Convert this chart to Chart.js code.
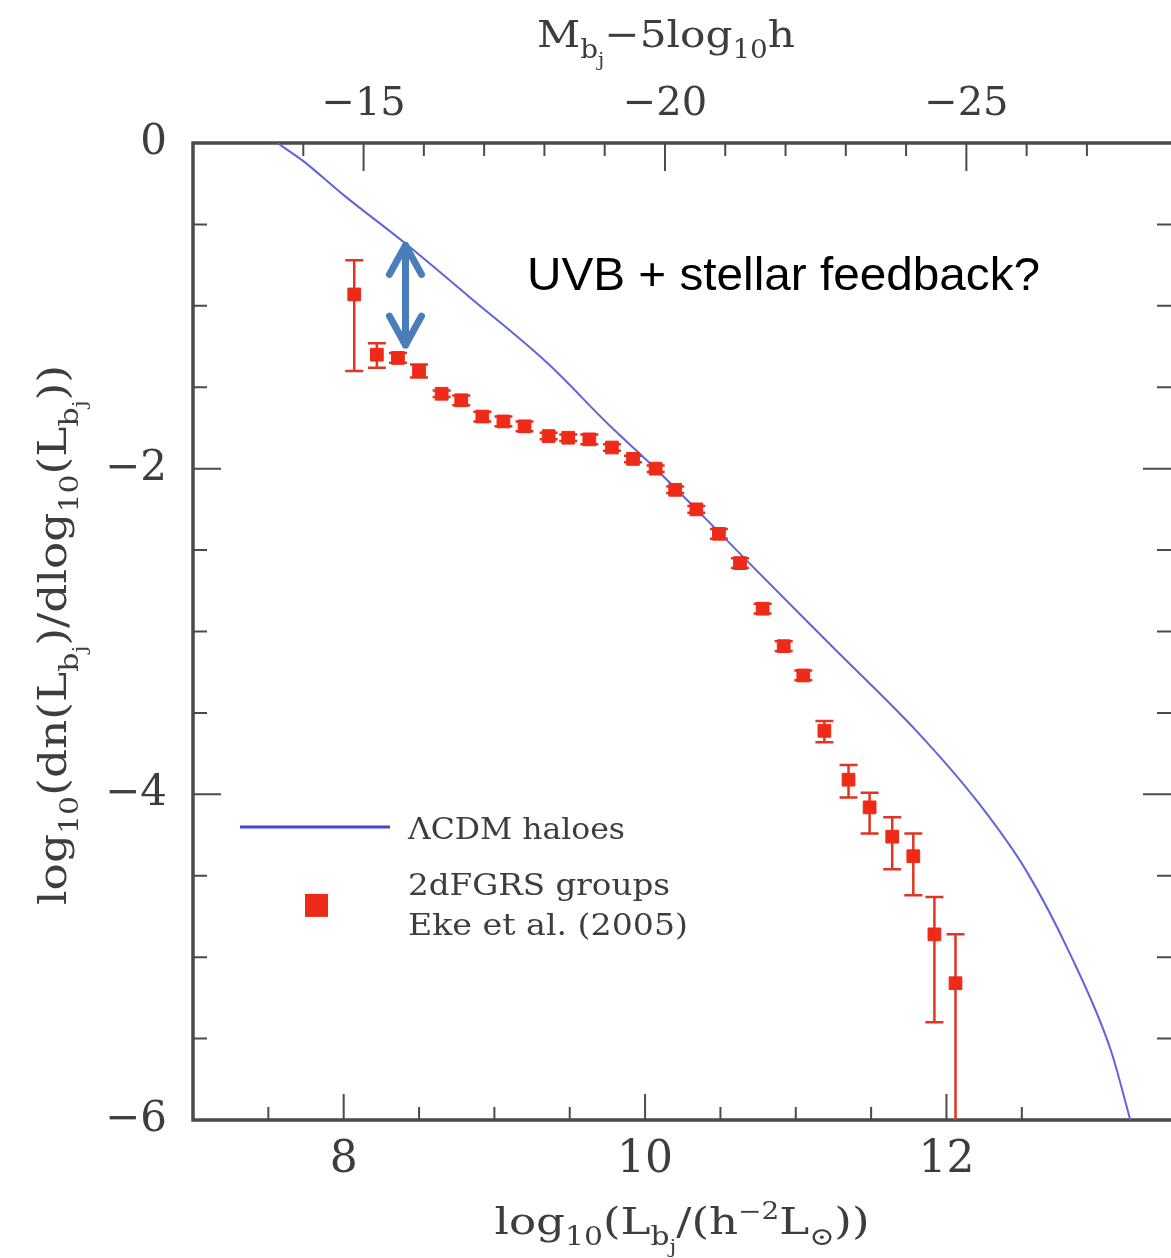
<!DOCTYPE html>
<html>
<head>
<meta charset="utf-8">
<script src="https://cdn.jsdelivr.net/npm/chart.js@4.4.0/dist/chart.umd.min.js"></script>
<style>
  html, body { margin: 0; padding: 0; background: #fff; overflow: hidden; }
  canvas { display: block; }
</style>
</head>
<body>
<canvas id="lfChart" width="1171" height="1258"></canvas>
<script>
// 2dFGRS groups (Eke et al. 2005)
const groupLogL = [8.07, 8.22, 8.36, 8.50, 8.65, 8.78, 8.92, 9.06, 9.20, 9.36, 9.49, 9.63, 9.78, 9.92, 10.07,
  10.20, 10.34, 10.49, 10.63, 10.78, 10.92, 11.05, 11.19, 11.35, 11.49, 11.64, 11.78, 11.92, 12.06];
const groupPhi = [-0.93, -1.30, -1.32, -1.40, -1.54, -1.58, -1.68, -1.71, -1.74, -1.80, -1.81, -1.82, -1.87, -1.94, -2.00,
  -2.13, -2.25, -2.40, -2.58, -2.86, -3.09, -3.27, -3.61, -3.91, -4.08, -4.26, -4.38, -4.86, -5.16];
const groupErrTop = [-0.72, -1.23, -1.29, -1.36, -1.52, -1.55, -1.65, -1.68, -1.71, -1.78, -1.79, -1.79, -1.85, -1.92, -1.98,
  -2.11, -2.23, -2.37, -2.55, -2.83, -3.06, -3.24, -3.55, -3.82, -3.99, -4.14, -4.24, -4.63, -4.86];
const groupErrBottom = [-1.40, -1.38, -1.35, -1.44, -1.56, -1.61, -1.71, -1.74, -1.77, -1.82, -1.83, -1.85, -1.89, -1.96, -2.02,
  -2.15, -2.27, -2.43, -2.61, -2.89, -3.12, -3.30, -3.68, -4.02, -4.24, -4.46, -4.62, -5.40, -6.50];

// LCDM halo curve
const haloLogL = [7.56, 7.73, 8.00, 8.40, 8.84, 9.35, 9.77, 10.07, 10.49, 10.67, 11.25, 11.82, 12.21, 12.53, 12.82, 13.09, 13.22];
const haloPhi = [0.00, -0.11, -0.32, -0.61, -0.95, -1.35, -1.74, -2.00, -2.39, -2.56, -3.10, -3.63, -4.05, -4.47, -4.98, -5.57, -6.00];

// axes
const xMin = 7, xMax = 13.49;
const yMin = -6, yMax = 0;
const magSun = 5.33; // M = magSun - 2.5 log10 L
const xMajorLabels = [8, 10, 12];
const yMajorLabels = [0, -2, -4, -6];
const magLabels = [-15, -20, -25];

// annotation: gap between haloes and groups
const arrowLogL = 8.41, arrowTop = -0.61, arrowBottom = -1.26;
const noteText = 'UVB + stellar feedback?';
const legendLabels = ['\u039bCDM haloes', '2dFGRS groups', 'Eke et al. (2005)'];

const AXIS_COL = '#4a4a4a';
const TEXT_COL = '#3d3d3d';
const SERIF = '"DejaVu Serif", serif';
const RED = '#ee2b18';
const BLUE = '#6262dc';

//draw text with sub/superscripts; parts = [[text, level]], level 1 sub, 2 subsub, -1 sup
//the run is squeezed/stretched horizontally to span `width` px
function drawRich(ctx, parts, cx, baseline, size, width) {
  const scale = { 0: 1, 1: 0.66, 2: 0.48, '-1': 0.62 };
  const shift = { 0: 0, 1: 0.3, 2: 0.5, '-1': -0.4 };
  let total = 0;
  const widths = parts.map(p => {
    ctx.font = (size * scale[p[1]]) + 'px ' + SERIF;
    const w = ctx.measureText(p[0]).width;
    total += w;
    return w;
  });
  ctx.save();
  ctx.translate(cx, baseline);
  ctx.scale(width / total, 1);
  let x = -total / 2;
  ctx.textAlign = 'left';
  ctx.textBaseline = 'alphabetic';
  parts.forEach((p, i) => {
    ctx.font = (size * scale[p[1]]) + 'px ' + SERIF;
    ctx.fillText(p[0], x, shift[p[1]] * size);
    x += widths[i];
  });
  ctx.restore();
}

//plain text stretched to a given width, left aligned
function drawWide(ctx, text, x, baseline, font, width) {
  ctx.save();
  ctx.font = font;
  const w = ctx.measureText(text).width;
  ctx.translate(x, baseline);
  ctx.scale(width / w, 1);
  ctx.textAlign = 'left';
  ctx.textBaseline = 'alphabetic';
  ctx.fillText(text, 0, 0);
  ctx.restore();
}

function isStep(v, step) {
  return Math.abs(v / step - Math.round(v / step)) < 1e-6;
}

const framePlugin = {
  id: 'frame',
  beforeDatasetsDraw(chart) {
    const { ctx, chartArea: a, scales } = chart;
    ctx.save();
    ctx.strokeStyle = AXIS_COL;
    ctx.lineWidth = 2;
    // inward tick marks
    scales.x.ticks.forEach(t => {
      if (!isStep(t.value, 0.5)) return;
      const px = scales.x.getPixelForValue(t.value);
      const len = isStep(t.value, 2) ? 26 : 13;
      ctx.beginPath();
      ctx.moveTo(px, a.bottom); ctx.lineTo(px, a.bottom - len);
      ctx.stroke();
    });
    scales.x2.ticks.forEach(t => {
      if (!isStep(t.value, 1)) return;
      const px = scales.x2.getPixelForValue(t.value);
      const len = isStep(t.value, 5) ? 28 : 13;
      ctx.beginPath();
      ctx.moveTo(px, a.top); ctx.lineTo(px, a.top + len);
      ctx.stroke();
    });
    scales.y.ticks.forEach(t => {
      if (!isStep(t.value, 0.5)) return;
      const py = scales.y.getPixelForValue(t.value);
      const len = isStep(t.value, 2) ? 28 : 14;
      ctx.beginPath();
      ctx.moveTo(a.left, py); ctx.lineTo(a.left + len, py);
      ctx.moveTo(a.right, py); ctx.lineTo(a.right - len, py);
      ctx.stroke();
    });
    // box (right side falls off the page)
    ctx.lineWidth = 3.5;
    ctx.beginPath();
    ctx.moveTo(a.right + 2, a.top);
    ctx.lineTo(a.left, a.top);
    ctx.lineTo(a.left, a.bottom);
    ctx.lineTo(a.right + 2, a.bottom);
    ctx.stroke();

    // error bars
    ctx.beginPath();
    ctx.rect(a.left, a.top, a.right - a.left, a.bottom - a.top);
    ctx.clip();
    ctx.strokeStyle = '#de3524';
    ctx.lineWidth = 2.5;
    groupLogL.forEach((lx, i) => {
      const px = scales.x.getPixelForValue(lx);
      const pt = scales.y.getPixelForValue(groupErrTop[i]);
      const pb = scales.y.getPixelForValue(groupErrBottom[i]);
      ctx.beginPath();
      ctx.moveTo(px, pt); ctx.lineTo(px, pb);
      ctx.moveTo(px - 9, pt); ctx.lineTo(px + 9, pt);
      ctx.moveTo(px - 9, pb); ctx.lineTo(px + 9, pb);
      ctx.stroke();
    });
    ctx.restore();
  },
  afterDraw(chart) {
    const { ctx, chartArea: a, scales } = chart;
    ctx.save();
    ctx.fillStyle = TEXT_COL;
    // axis titles
    drawRich(ctx, [['M', 0], ['b', 1], ['j', 2], ['\u22125log', 0], ['10', 1], ['h', 0]], 666, 47, 38, 258);
    drawRich(ctx, [['log', 0], ['10', 1], ['(L', 0], ['b', 1], ['j', 2], ['/(h', 0], ['\u22122', -1], ['L', 0], ['\u2299', 1], ['))', 0]], 682, 1234, 38, 375);
    ctx.save();
    ctx.translate(66, 635);
    ctx.rotate(-Math.PI / 2);
    drawRich(ctx, [['log', 0], ['10', 1], ['(dn(L', 0], ['b', 1], ['j', 2], [')/dlog', 0], ['10', 1], ['(L', 0], ['b', 1], ['j', 2], ['))', 0]], 0, 0, 39, 540);
    ctx.restore();

    // legend inside the plot
    const lx = a.left + 47, ly = scales.y.getPixelForValue(-4.2);
    ctx.strokeStyle = '#4646d4';
    ctx.lineWidth = 3;
    ctx.beginPath();
    ctx.moveTo(lx, ly); ctx.lineTo(lx + 150, ly);
    ctx.stroke();
    ctx.fillStyle = RED;
    ctx.fillRect(lx + 65, ly + 67, 23, 23);
    ctx.fillStyle = TEXT_COL;
    drawWide(ctx, legendLabels[0], lx + 168, ly + 12, '30px ' + SERIF, 217);
    drawWide(ctx, legendLabels[1], lx + 168, ly + 68, '30px ' + SERIF, 262);
    drawWide(ctx, legendLabels[2], lx + 168, ly + 108, '30px ' + SERIF, 280);

    // annotation arrow and text
    const ax = scales.x.getPixelForValue(arrowLogL);
    const at = scales.y.getPixelForValue(arrowTop);
    const ab = scales.y.getPixelForValue(arrowBottom);
    ctx.strokeStyle = '#4a7ebb';
    ctx.lineWidth = 7;
    ctx.lineCap = 'round';
    ctx.lineJoin = 'round';
    ctx.beginPath();
    ctx.moveTo(ax, at + 3); ctx.lineTo(ax, ab - 3);
    ctx.moveTo(ax - 16, at + 32); ctx.lineTo(ax, at + 3); ctx.lineTo(ax + 16, at + 32);
    ctx.moveTo(ax - 16, ab - 32); ctx.lineTo(ax, ab - 3); ctx.lineTo(ax + 16, ab - 32);
    ctx.stroke();
    ctx.fillStyle = '#000';
    drawWide(ctx, noteText, 527, 290, '46px "Liberation Sans", Arial, sans-serif', 513);
    ctx.restore();
  }
};

const minusFmt = v => (v < 0 ? '\u2212' + Math.abs(v) : String(v));

//fix the plot box and drop the label overhang padding
function fixH(h) {
  return s => { s.height = h; s.paddingLeft = 0; s.paddingRight = 0; };
}

const ctx = document.getElementById('lfChart').getContext('2d');
new Chart(ctx, {
  type: 'scatter',
  data: {
    datasets: [
      {
        label: 'LCDM haloes',
        data: haloLogL.map((v, i) => ({ x: v, y: haloPhi[i] })),
        showLine: true,
        borderColor: BLUE,
        borderWidth: 2,
        pointRadius: 0,
        cubicInterpolationMode: 'monotone',
        order: 2
      },
      {
        label: '2dFGRS groups',
        data: groupLogL.map((v, i) => ({ x: v, y: groupPhi[i] })),
        pointStyle: 'rect',
        pointRadius: 9,
        backgroundColor: RED,
        borderColor: RED,
        borderWidth: 1,
        order: 1
      }
    ]
  },
  options: {
    responsive: false,
    animation: false,
    layout: { padding: 0, autoPadding: false },
    plugins: { legend: { display: false }, tooltip: { enabled: false } },
    scales: {
      x: {
        type: 'linear', position: 'bottom', min: xMin, max: xMax,
        grid: { display: false, drawTicks: false }, border: { display: false },
        ticks: {
          stepSize: 0.5, autoSkip: false, maxRotation: 0, padding: 14, color: TEXT_COL,
          font: { family: SERIF, size: 44 },
          callback: v => (xMajorLabels.includes(v) ? String(v) : '')
        },
        afterFit: fixH(138)
      },
      x2: {
        type: 'linear', position: 'top', reverse: true,
        min: magSun - 2.5 * xMax, max: magSun - 2.5 * xMin,
        grid: { display: false, drawTicks: false }, border: { display: false },
        ticks: {
          stepSize: 1, autoSkip: false, maxRotation: 0, padding: 14, color: TEXT_COL,
          font: { family: SERIF, size: 40 },
          callback: v => (magLabels.includes(v) ? minusFmt(v) : '')
        },
        afterFit: fixH(143)
      },
      y: {
        type: 'linear', min: yMin, max: yMax,
        grid: { display: false, drawTicks: false }, border: { display: false },
        ticks: {
          stepSize: 0.5, autoSkip: false, padding: 26, color: TEXT_COL,
          font: { family: SERIF, size: 42 },
          callback: v => (yMajorLabels.includes(v) ? minusFmt(v) : '')
        },
        afterFit: s => { s.width = 193; s.paddingTop = 0; s.paddingBottom = 0; }
      }
    }
  },
  plugins: [framePlugin]
});
</script>
</body>
</html>
